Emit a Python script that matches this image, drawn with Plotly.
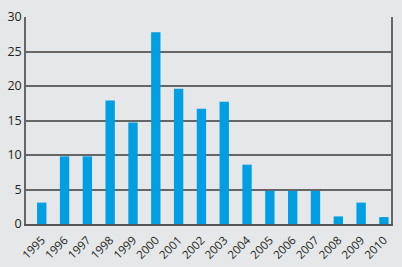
import plotly.graph_objects as go

years = [str(y) for y in range(1995, 2011)]
values = [3.1, 9.8, 9.8, 17.9, 14.7, 27.8, 19.6, 16.7, 17.7, 8.6, 4.8, 4.8, 4.8, 1.1, 3.1, 1.0]
y_ticks = [0, 5, 10, 15, 20, 25, 30]

fig = go.Figure(go.Bar(
    x=years, y=values,
    marker=dict(color="#009FE3", line=dict(width=0)),
    width=0.41,
))

fig.update_layout(
    width=402, height=267,
    margin=dict(l=26, r=11, t=17, b=43),
    paper_bgcolor="#E6E7E8", plot_bgcolor="#E6E7E8",
    showlegend=False,
    font=dict(family="Open Sans", color="#231F20"),
)
fig.update_xaxes(
    type="category", range=[-0.69, 15.31], automargin=False,
    tickangle=-45, tickfont=dict(size=11.5),
    showline=True, linecolor="#555555", linewidth=2,
    mirror=False, showgrid=False, ticks="outside", ticklen=3, tickcolor="rgba(0,0,0,0)",
)
fig.update_yaxes(
    range=[0, 30], tickvals=y_ticks, tickfont=dict(size=12.5), automargin=False,
    showgrid=True, gridcolor="#666666", gridwidth=1.5,
    showline=True, linecolor="#666666", linewidth=1.5, mirror=True,
    zeroline=False, ticks="",
)
fig.write_html(
    "out.html",
    config={"displayModeBar": False},
    post_script="document.body.style.margin='0';document.body.style.overflow='hidden';",
)
